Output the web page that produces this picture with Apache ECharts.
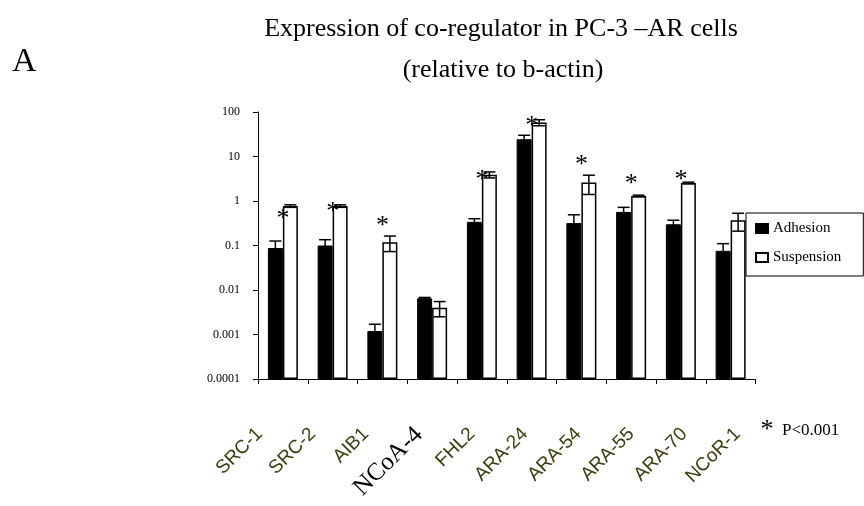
<!DOCTYPE html>
<html>
<head>
<meta charset="utf-8">
<script src="https://cdn.jsdelivr.net/npm/echarts@6/dist/echarts.min.js"></script>
<style>html,body{margin:0;padding:0;background:#fff;}#chart{width:864px;height:506px;}</style>
</head>
<body>
<div id="chart"></div>
<script>
const categories = ['SRC-1','SRC-2','AIB1','NCoA-4','FHL2','ARA-24','ARA-54','ARA-55','ARA-70','NCoR-1'];
const adhesion = [0.088, 0.10, 0.0012, 0.0065, 0.34, 24.5, 0.32, 0.57, 0.30, 0.076];
const adhesionErr = [0.038, 0.035, 0.0005, 0.0003, 0.06, 5.5, 0.17, 0.15, 0.07, 0.034];
const suspension = [0.77, 0.77, 0.118, 0.004, 3.9, 58, 2.6, 1.3, 2.55, 0.37];
const suspensionErr = [0.05, 0.05, 0.045, 0.0015, 0.6, 9, 1.2, 0.05, 0.1, 0.16];
const asteriskAt = [0.51, 0.73, 0.36, null, 4.0, 63, 8.5, 3.1, 4.0, null];
const yTickLabels = ['0.0001','0.001','0.01','0.1','1','10','100'];
const seriesNames = ['Adhesion','Suspension'];

const SERIF = '"Liberation Serif","Times New Roman",serif';
const SANS = '"Liberation Sans",Arial,sans-serif';
const BAR_W = 15;
const YMIN = 0.0001, YMAX = 100;

function errRender(offset) {
  return function (params, api) {
    const i = api.value(0), v = api.value(1), e = api.value(2);
    const top = api.coord([i, v + e]);
    const bot = api.coord([i, Math.max(v - e, YMIN)]);
    const x = top[0] + offset;
    const cw = 6;
    const style = { stroke: '#000', lineWidth: 1.5 };
    return {
      type: 'group',
      children: [
        { type: 'line', shape: { x1: x, y1: top[1], x2: x, y2: bot[1] }, style },
        { type: 'line', shape: { x1: x - cw, y1: top[1], x2: x + cw, y2: top[1] }, style },
        { type: 'line', shape: { x1: x - cw, y1: bot[1], x2: x + cw, y2: bot[1] }, style }
      ]
    };
  };
}

const asteriskData = [];
asteriskAt.forEach((v, i) => { if (v != null) asteriskData.push([i, v]); });

const chart = echarts.init(document.getElementById('chart'), null, { renderer: 'canvas' });
chart.setOption({
  backgroundColor: '#fff',
  animation: false,
  graphic: [
    { type: 'text', left: 12, top: 45, style: { text: 'A', font: '34px ' + SERIF, fill: '#000' } },
    { type: 'text', x: 501, y: 29, style: { text: 'Expression of co-regulator in PC-3 \u2013AR cells', font: '26px ' + SERIF, fill: '#000', align: 'center', verticalAlign: 'middle' } },
    { type: 'text', x: 503, y: 70, style: { text: '(relative to b-actin)', font: '26px ' + SERIF, fill: '#000', align: 'center', verticalAlign: 'middle' } },
    { type: 'text', x: 767, y: 430, style: { text: '*', font: '26px ' + SERIF, fill: '#000', align: 'center', verticalAlign: 'middle' } },
    { type: 'text', x: 782, y: 431, style: { text: 'P<0.001', font: '17px ' + SERIF, fill: '#000', align: 'left', verticalAlign: 'middle' } }
  ],
  legend: {
    data: seriesNames,
    orient: 'vertical',
    left: 746, top: 213,
    padding: [8, 22, 11, 9],
    itemGap: 14,
    itemWidth: 12, itemHeight: 9,
    icon: 'rect',
    borderColor: '#000', borderWidth: 1,
    textStyle: { fontFamily: SERIF, fontSize: 15, color: '#000' }
  },
  grid: [
    { left: 258, right: 108.5, top: 112, bottom: 127, containLabel: false },
    { left: 233, width: 531, top: 112, bottom: 127, containLabel: false }
  ],
  xAxis: [
    {
      type: 'category',
      gridIndex: 0,
      data: categories,
      boundaryGap: true,
      axisLine: { lineStyle: { color: '#000', width: 1 } },
      axisTick: { show: true, interval: 0, length: 5, lineStyle: { color: '#000' } },
      axisLabel: { show: false, interval: 0 },
      splitLine: { show: false }
    },
    {
      type: 'category',
      gridIndex: 1,
      data: categories,
      boundaryGap: true,
      axisLine: { show: false },
      axisTick: { show: false },
      axisLabel: {
        interval: 0,
        rotate: 45,
        margin: 52,
        formatter: v => v === 'NCoA-4' ? '{b|' + v + '}' : '{a|' + v + '}',
        rich: {
          a: { fontFamily: SANS, fontSize: 19, color: '#3d3d12' },
          b: { fontFamily: SERIF, fontSize: 25, color: '#000' }
        }
      },
      splitLine: { show: false }
    }
  ],
  yAxis: [
    {
      type: 'log',
      gridIndex: 0,
      logBase: 10,
      min: YMIN, max: YMAX,
      startValue: YMIN,
      splitNumber: 6,
      axisLine: { show: true, lineStyle: { color: '#000', width: 1 } },
      axisTick: { show: true, length: 5, lineStyle: { color: '#000' } },
      axisLabel: {
        margin: 18,
        fontFamily: SERIF, fontSize: 12, color: '#000',
        formatter: (v, idx) => yTickLabels[idx] !== undefined ? yTickLabels[idx] : String(v)
      },
      splitLine: { show: false }
    },
    {
      type: 'value', gridIndex: 1, show: false, min: 0, max: 1
    }
  ],
  series: [
    {
      name: seriesNames[0], type: 'bar', data: adhesion,
      barWidth: BAR_W, barGap: '0%',
      itemStyle: { color: '#000', borderColor: '#000', borderWidth: 1 }
    },
    {
      name: seriesNames[1], type: 'bar', data: suspension,
      barWidth: BAR_W, barGap: '0%',
      itemStyle: { color: '#fff', borderColor: '#000', borderWidth: 1.5 }
    },
    {
      type: 'custom', name: 'errA', silent: true, z: 5,
      renderItem: errRender(-BAR_W / 2),
      data: adhesion.map((v, i) => [i, v, adhesionErr[i]])
    },
    {
      type: 'custom', name: 'errS', silent: true, z: 5,
      renderItem: errRender(BAR_W / 2),
      data: suspension.map((v, i) => [i, v, suspensionErr[i]])
    },
    {
      type: 'custom', name: 'star', silent: true, z: 6,
      renderItem: function (params, api) {
        const p = api.coord([api.value(0), api.value(1)]);
        return { type: 'text', x: p[0], y: p[1] + 5.5, style: { text: '*', font: '26px ' + SERIF, fill: '#000', align: 'center', verticalAlign: 'middle' } };
      },
      data: asteriskData
    }
  ]
});
</script>
</body>
</html>
